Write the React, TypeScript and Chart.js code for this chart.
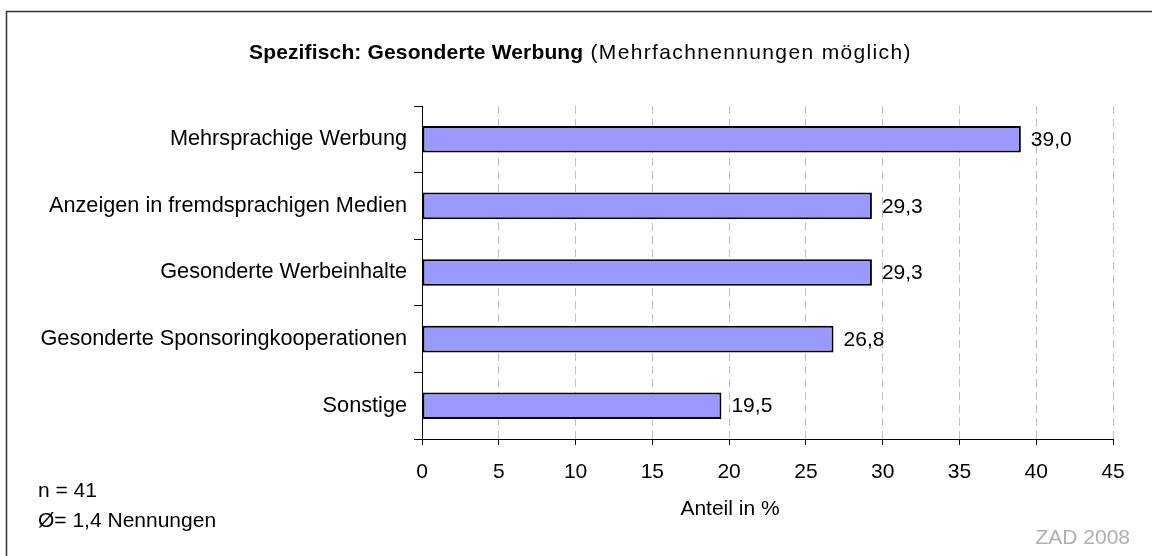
import React, { useEffect, useRef } from "react";
import { Chart, registerables } from "chart.js";

Chart.register(...registerables);

const categories = [
  "Mehrsprachige Werbung",
  "Anzeigen in fremdsprachigen Medien",
  "Gesonderte Werbeinhalte",
  "Gesonderte Sponsoringkooperationen",
  "Sonstige",
];
const values = [39.0, 29.3, 29.3, 26.8, 19.5];
const xMin = 0;
const xMax = 45;
const xStep = 5;
const titleBold = "Spezifisch: Gesonderte Werbung";
const titleNormal = " (Mehrfachnennungen möglich)";
const axisTitle = "Anteil in %";
const noteLines = ["n = 41", "Ø= 1,4 Nennungen"];
const sourceText = "ZAD 2008";

const FONT = "'Liberation Sans', Arial, Helvetica, sans-serif";
const FS = 21;

const fmt = (v: number) => v.toFixed(1).replace(".", ",");

const decorPlugin = {
  id: "decor",
  beforeDraw(chart: any) {
    const ctx = chart.ctx;
    ctx.save();
    ctx.fillStyle = "#ffffff";
    ctx.fillRect(0, 0, chart.width, chart.height);
    ctx.strokeStyle = "#333333";
    ctx.lineWidth = 1.5;
    ctx.strokeRect(6.5, 11.5, 1300, 700);
    ctx.restore();
  },
  afterDraw(chart: any) {
    const ctx = chart.ctx;
    ctx.save();
    ctx.textBaseline = "alphabetic";
    ctx.textAlign = "left";
    ctx.fillStyle = "#000000";
    // title
    ctx.font = `bold ${FS}px ${FONT}`;
    (ctx as any).letterSpacing = "0.15px";
    const bw = ctx.measureText(titleBold).width;
    ctx.fillText(titleBold, 249, 59);
    ctx.font = `${FS}px ${FONT}`;
    (ctx as any).letterSpacing = "1.35px";
    ctx.fillText(titleNormal, 249 + bw, 59);
    (ctx as any).letterSpacing = "0px";
    // axis title
    ctx.textAlign = "center";
    ctx.fillText(axisTitle, 730, 515);
    // notes
    ctx.textAlign = "left";
    ctx.fillText(noteLines[0], 38, 497);
    ctx.fillText(noteLines[1], 38, 527);
    // source
    ctx.textAlign = "right";
    ctx.fillStyle = "#b0b0b0";
    ctx.fillText(sourceText, 1130, 544);
    ctx.restore();
  },
  afterDatasetsDraw(chart: any) {
    const ctx = chart.ctx;
    const meta = chart.getDatasetMeta(0);
    ctx.save();
    ctx.font = `${FS}px ${FONT}`;
    ctx.fillStyle = "#000000";
    ctx.textAlign = "left";
    ctx.textBaseline = "middle";
    meta.data.forEach((bar: any, i: number) => {
      ctx.fillText(fmt(values[i]), bar.x + 10, bar.y + 1);
    });
    ctx.restore();
  },
};

export default function App() {
  const ref = useRef<HTMLCanvasElement | null>(null);
  useEffect(() => {
    if (!ref.current) return;
    const chart = new Chart(ref.current, {
      type: "bar",
      data: {
        labels: categories,
        datasets: [
          {
            data: values,
            backgroundColor: "#9999ff",
            borderColor: "#000000",
            borderWidth: 2,
            borderSkipped: false,
            categoryPercentage: 0.4,
            barPercentage: 1,
          },
        ],
      },
      options: {
        indexAxis: "y",
        responsive: false,
        animation: false,
        devicePixelRatio: 1,
        layout: { padding: { left: 0, right: 39, top: 106, bottom: 0 } },
        plugins: {
          legend: { display: false },
          title: { display: false },
          tooltip: { enabled: false },
        },
        scales: {
          x: {
            type: "linear",
            min: xMin,
            max: xMax,
            position: "bottom",
            ticks: {
              stepSize: xStep,
              color: "#000000",
              font: { family: FONT, size: FS },
              padding: 15,
              maxRotation: 0,
            },
            grid: {
              display: true,
              drawOnChartArea: true,
              drawTicks: true,
              tickLength: 6,
              color: (c: any) => (c.index === 0 ? "rgba(0,0,0,0)" : "#c0c0c0"),
              tickColor: "#000000",
              lineWidth: 1,
              tickWidth: 1,
              tickBorderDash: [],
            },
            border: { display: true, color: "#000000", width: 1, dash: [8, 5] },
            afterFit: (s: any) => {
              s.height = 117;
            },
          },
          y: {
            type: "category",
            position: "left",
            offset: true,
            ticks: {
              color: "#000000",
              font: { family: FONT, size: 21.7 },
              padding: 7,
            },
            grid: {
              display: true,
              offset: true,
              drawOnChartArea: false,
              drawTicks: true,
              tickLength: 8,
              color: "#000000",
              tickColor: "#000000",
            },
            border: { display: true, color: "#000000", width: 1 },
            afterFit: (s: any) => {
              s.width = 422;
            },
          },
        },
      } as any,
      plugins: [decorPlugin],
    });
    return () => chart.destroy();
  }, []);
  return (
    <div style={{ position: "absolute", left: 0, top: 0, width: 1152, height: 556, background: "#fff" }}>
      <canvas ref={ref} width={1152} height={556} style={{ display: "block", width: 1152, height: 556 }} />
    </div>
  );
}
